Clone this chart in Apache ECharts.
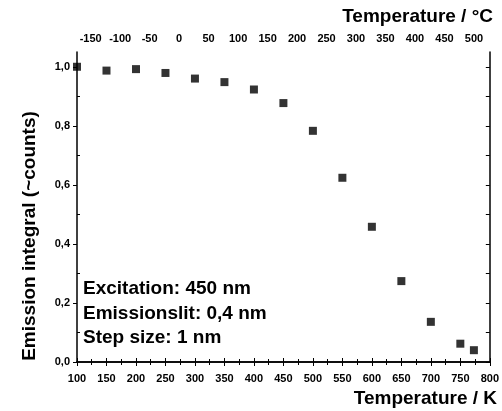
<!DOCTYPE html>
<html>
<head>
<meta charset="utf-8">
<script src="https://cdn.jsdelivr.net/npm/echarts@6/dist/echarts.min.js"></script>
<style>
  html, body { margin: 0; padding: 0; background: #fff; }
  #chart { width: 502px; height: 411px; }
</style>
</head>
<body>
<div id="chart"></div>
<script>
// Temperature in kelvin and normalised emission integral
const temperatureK = [100, 150, 200, 250, 300, 350, 400, 450, 500, 550, 600, 650, 700, 750, 773];
const emissionIntegral = [1.0, 0.987, 0.992, 0.979, 0.960, 0.948, 0.923, 0.877, 0.783, 0.624, 0.458, 0.274, 0.136, 0.062, 0.040];

// Tick labels
const kelvinTicks = [100, 150, 200, 250, 300, 350, 400, 450, 500, 550, 600, 650, 700, 750, 800];
const celsiusTicks = [-150, -100, -50, 0, 50, 100, 150, 200, 250, 300, 350, 400, 450, 500];
const yMajorTicks = [0, 0.2, 0.4, 0.6, 0.8, 1.0];
const yMinorTicks = [0.1, 0.3, 0.5, 0.7, 0.9];

const annotationLines = ['Excitation: 450 nm', 'Emissionslit: 0,4 nm', 'Step size: 1 nm'];

const KELVIN_OFFSET = 273.15;
const FONT = '"Liberation Sans", Arial, sans-serif';
const AXIS_LINE = { show: true, lineStyle: { color: '#000', width: 1.5 } };
const TICK_STYLE = { color: '#000', width: 1 };
const TICK_LABEL = { color: '#000', fontFamily: FONT, fontWeight: 'bold', fontSize: 11 };

const allYTicks = yMajorTicks.concat(yMinorTicks).sort((a, b) => a - b);
const commaDecimal = v => v.toFixed(1).replace('.', ',');

const chart = echarts.init(document.getElementById('chart'), null, { renderer: 'canvas' });

chart.setOption({
  backgroundColor: '#fff',
  animation: false,
  grid: { left: 77, right: 9, top: 52, bottom: 49, containLabel: false },
  xAxis: [
    {
      type: 'value', position: 'bottom', min: 100, max: 800, interval: 50,
      axisLine: AXIS_LINE,
      axisTick: { show: true, inside: true, length: 4, lineStyle: TICK_STYLE },
      minorTick: { show: true, splitNumber: 2, length: 3, lineStyle: TICK_STYLE },
      splitLine: { show: false },
      axisLabel: Object.assign({
        customValues: kelvinTicks, margin: 11,
        formatter: v => String(v)
      }, TICK_LABEL)
    },
    {
      // Celsius scale drawn on the same kelvin range
      type: 'value', position: 'top', min: 100, max: 800, interval: 50,
      axisLine: AXIS_LINE,
      axisTick: { show: true, inside: true, length: 4, lineStyle: TICK_STYLE },
      minorTick: { show: true, splitNumber: 2, length: 3, lineStyle: TICK_STYLE },
      splitLine: { show: false },
      axisLabel: Object.assign({
        customValues: celsiusTicks.map(c => c + KELVIN_OFFSET),
        margin: 8,
        formatter: v => String(Math.round(v - KELVIN_OFFSET))
      }, TICK_LABEL)
    }
  ],
  yAxis: [
    {
      type: 'value', position: 'left', min: 0, max: 1.05,
      axisLine: AXIS_LINE,
      axisTick: { show: true, inside: false, length: 4, customValues: yMajorTicks, lineStyle: TICK_STYLE },
      splitLine: { show: false },
      axisLabel: Object.assign({
        customValues: yMajorTicks, margin: 7,
        formatter: commaDecimal
      }, TICK_LABEL)
    },
    {
      type: 'value', position: 'right', min: 0, max: 1.05,
      axisLine: AXIS_LINE,
      axisTick: { show: true, inside: true, length: 4, customValues: allYTicks, lineStyle: TICK_STYLE },
      splitLine: { show: false },
      axisLabel: { show: false }
    },
    {
      // inward minor ticks on the left side
      type: 'value', position: 'left', offset: 0, min: 0, max: 1.05,
      axisLine: { show: false },
      axisTick: { show: true, inside: true, length: 3, customValues: yMinorTicks, lineStyle: TICK_STYLE },
      splitLine: { show: false },
      axisLabel: { show: false }
    }
  ],
  series: [
    {
      type: 'scatter',
      xAxisIndex: 0, yAxisIndex: 0,
      symbol: 'rect', symbolSize: 8,
      itemStyle: { color: '#000' },
      clip: false,
      data: temperatureK.map((t, i) => [t, emissionIntegral[i]])
    }
  ],
  graphic: [
    {
      type: 'text', right: 5, top: 389,
      style: { text: 'Temperature / K', fill: '#000', font: 'bold 19px ' + FONT }
    },
    {
      type: 'text', right: 9, top: 7,
      style: { text: 'Temperature / °C', fill: '#000', font: 'bold 19px ' + FONT }
    },
    {
      type: 'text', x: 30, y: 236, rotation: Math.PI / 2,
      style: {
        text: 'Emission integral (~counts)', fill: '#000',
        font: 'bold 19px ' + FONT, align: 'center', verticalAlign: 'middle'
      }
    },
    {
      type: 'text', x: 83, y: 277,
      style: {
        text: annotationLines.join('\n'), fill: '#000',
        font: 'bold 19px ' + FONT, lineHeight: 24.5, verticalAlign: 'top'
      }
    }
  ]
});
</script>
</body>
</html>
